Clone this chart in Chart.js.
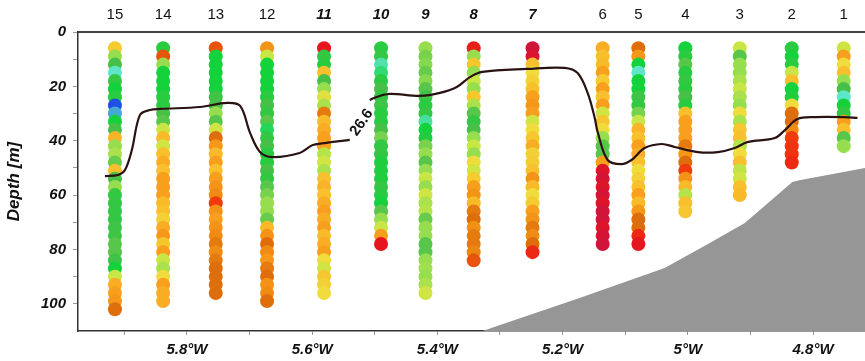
<!DOCTYPE html>
<html>
<head>
<meta charset="utf-8">
<script src="https://cdn.jsdelivr.net/npm/chart.js@4"></script>
<style>html,body{margin:0;padding:0;background:#fff}</style>
</head>
<body>
<canvas id="c" width="865" height="361"></canvas>
<script>
// stations, numbered from west (15) to east (1)
const stationIds = [15, 14, 13, 12, 11, 10, 9, 8, 7, 6, 5, 4, 3, 2, 1];
const stationLon = [-5.915, -5.838, -5.754, -5.672, -5.581, -5.490, -5.419, -5.342, -5.248, -5.136, -5.079, -5.004, -4.917, -4.834, -4.751];
const italicStations = [11, 10, 9, 8, 7];

// sample depths (m), each profile uses the first N of them
const depths = [6, 9, 12, 15, 18, 21, 24, 27, 30, 33, 36, 39, 42, 45, 48, 51, 54, 57, 60, 63, 66, 69, 72, 75, 78, 81, 84, 87, 90, 93, 96, 99, 102];

// colour-coded value per sample (0 = blue ... 8.5 = crimson)
const st15 = [4.3, 3, 2.5, 1, 2.3, 2, 2.2, 0, 0.6, 2, 2.5, 4.7, 3, 3.2, 2.7, 4.5, 2.5, 3, 2.3, 2.3, 2.3, 2.3, 2.4, 2.4, 2.6, 2.6, 2.4, 2, 3.5, 4.8, 5, 5.2, 6];
const st14 = [2.2, 6.5, 3, 2, 2, 2, 2.2, 2.2, 2.5, 2.6, 3.5, 4.6, 3.6, 4.5, 4.8, 4.5, 5, 5, 5, 4.6, 4.5, 4.2, 4.8, 5.2, 4.4, 5, 3.5, 3.2, 4, 5, 4.8, 4.8];
const st13 = [6.5, 2, 2, 2, 2, 2, 2.4, 2.5, 3, 2.6, 3.6, 6, 5.2, 4.6, 5, 4.5, 5, 5.3, 5.5, 7, 5.3, 5, 5.3, 5.5, 5.8, 5.5, 5.8, 6, 6, 6, 6];
const st12 = [5.3, 3.5, 2, 2, 2, 2, 2.2, 2.5, 2.3, 2.6, 1.8, 2.3, 2.5, 2.2, 2.2, 2.5, 2.3, 2.6, 2.8, 3, 3, 2.7, 4.6, 5.3, 6, 5.5, 5.2, 5.8, 6, 5.3, 5.5, 6];
const st11 = [8, 2.3, 2.2, 4.5, 2.5, 3, 3.8, 3.2, 5.8, 4.6, 4.8, 5, 5, 3.3, 3.6, 3.2, 4.5, 4.7, 4.5, 4.8, 5, 4.8, 5, 4.6, 4.8, 5, 4, 3.6, 4.4, 4.2, 4];
const st10 = [2.2, 2.3, 1.2, 1.6, 2.2, 2.5, 2.3, 2.4, 2.2, 2.2, 2.5, 2.8, 2.3, 2.3, 2.1, 2.1, 2.1, 2.3, 2.2, 2, 2.6, 3, 3.5, 5, 8];
const st9 = [3, 2.8, 2.9, 2.7, 2.9, 2.6, 2.4, 2.2, 2.3, 1.3, 2, 2.1, 2.8, 3, 2.6, 3, 3.5, 3, 3.6, 3.2, 3.3, 2.7, 3, 3, 2.6, 2.6, 3, 3.1, 3, 3.2, 3.6];
const st8 = [7.8, 3, 4.4, 3, 3.5, 3, 4.4, 3.2, 2.6, 2.3, 2.5, 3, 3.5, 3, 4, 3.6, 4.3, 5, 5.3, 4.6, 5.8, 6, 5.4, 5.8, 5.8, 5.6, 6.5];
const st7 = [8.5, 8.3, 4.5, 4, 4.2, 4.5, 5, 5.2, 5, 3.6, 4, 4.4, 4.8, 4.2, 4.3, 4.5, 5.3, 4.6, 4, 4.3, 5, 5.3, 5.8, 5.5, 6, 7.5];
const st6 = [4.8, 4.5, 4.6, 5, 4.3, 5, 4.5, 5, 3.6, 4.4, 4, 3, 2.6, 2.6, 5, 8.2, 8.4, 8.2, 8.4, 8.2, 8.5, 8.5, 8.2, 8.4, 8.5];
const st5 = [6, 5.2, 2, 1, 2, 2, 2.4, 2.3, 2.8, 3.5, 4.7, 4.5, 5, 4.8, 4.5, 4, 4.2, 4.5, 5, 4.6, 5.2, 6, 6, 7.5, 8];
const st4 = [2, 2.2, 2.6, 2.2, 2.3, 2.2, 2.5, 2.2, 4.5, 5, 5, 5, 5.8, 5.2, 6, 7, 5.3, 4.6, 3.3, 4.5, 4.4];
const st3 = [3.5, 2.6, 3, 3, 3.2, 3.5, 3.2, 3, 4, 3.2, 4.4, 4.5, 3.3, 4, 4.5, 3.4, 3.6, 4.5, 4.6];
const st2 = [2.2, 2, 2.2, 3.5, 4.5, 2, 2.1, 4, 6, 6, 5.5, 7, 7.2, 7.2, 7.5];
const st1 = [3.6, 5, 4, 4.5, 3, 2.5, 1, 2, 2.3, 5, 4.5, 2.6, 3];
const stationValues = [st15, st14, st13, st12, st11, st10, st9, st8, st7, st6, st5, st4, st3, st2, st1];

// 26.6 isopycnal (null = gap for the label)
const isoLon = [-5.931, -5.910, -5.899, -5.888, -5.875, -5.859, -5.843, -5.779, -5.736, -5.715, -5.699, -5.683, -5.663, -5.620, -5.599, -5.577, -5.540, -5.525,
  -5.508, -5.497, -5.476, -5.428, -5.396, -5.369, -5.348, -5.328, -5.257, -5.197, -5.176, -5.160, -5.149, -5.144, -5.128, -5.106, -5.090, -5.069, -5.042,
  -5.021, -4.984, -4.952, -4.925, -4.905, -4.861, -4.845, -4.825, -4.798, -4.750, -4.729];
const isoDepth = [53.0, 52.6, 50.8, 43.4, 30.5, 28.7, 28.3, 27.6, 26.1, 27.2, 37.2, 44.2, 46.0, 44.5, 41.6, 40.8, 39.7, null,
  25.0, 23.9, 22.8, 23.5, 22.4, 20.2, 16.6, 14.7, 13.6, 13.2, 15.1, 22.4, 31.3, 36.8, 47.1, 48.6, 47.1, 42.7, 41.2,
  42.3, 44.2, 44.2, 42.7, 40.5, 39.0, 36.1, 32.0, 31.3, 31.3, 31.6];
const isoLabel = '26.6';

// sea floor
const bathyLon = [-5.328, -5.173, -5.037, -4.965, -4.909, -4.833, -4.822, -4.717];
const bathyDepth = [110, 97.9, 86.8, 77.6, 70.3, 55.2, 54.5, 50.0];

const lonTicks = [-5.9, -5.8, -5.7, -5.6, -5.5, -5.4, -5.3, -5.2, -5.1, -5.0, -4.9, -4.8];
const depthTicks = [0, 10, 20, 30, 40, 50, 60, 70, 80, 90, 100];

const FONT = 'Arial, "Liberation Sans", sans-serif';
const stops = [
  [0, [30, 80, 230]], [1, [94, 230, 200]], [2, [20, 210, 60]], [2.5, [72, 192, 72]],
  [3, [150, 222, 80]], [3.5, [200, 230, 70]], [4, [240, 220, 60]], [4.5, [248, 192, 44]],
  [5, [248, 160, 30]], [5.5, [240, 140, 20]], [6, [222, 110, 12]], [7, [240, 60, 12]],
  [8, [230, 22, 30]], [8.5, [208, 20, 58]]
];
function colorFor(v) {
  if (v <= stops[0][0]) return 'rgb(' + stops[0][1].join(',') + ')';
  for (let i = 1; i < stops.length; i++) {
    if (v <= stops[i][0]) {
      const [a, ca] = stops[i - 1], [b, cb] = stops[i];
      const t = (v - a) / (b - a);
      const c = ca.map((x, k) => Math.round(x + (cb[k] - x) * t));
      return 'rgb(' + c.join(',') + ')';
    }
  }
  return 'rgb(' + stops[stops.length - 1][1].join(',') + ')';
}

const datasets = [];
datasets.push({
  type: 'line',
  data: isoLon.map((x, i) => ({x, y: isoDepth[i]})),
  borderColor: '#2a1212', borderWidth: 2.2, pointRadius: 0,
  tension: 0.35, spanGaps: false, fill: false
});
datasets.push({
  type: 'line',
  data: bathyLon.map((x, i) => ({x, y: bathyDepth[i]})),
  borderWidth: 0, borderColor: '#969696', backgroundColor: '#969696',
  pointRadius: 0, tension: 0, fill: {value: 110}
});
stationValues.forEach((vals, i) => {
  datasets.push({
    type: 'scatter',
    data: vals.map((v, k) => ({x: stationLon[i], y: depths[k], v})),
    pointRadius: 7, pointBorderWidth: 0, borderWidth: 0,
    backgroundColor: c => c.raw ? colorFor(c.raw.v) : '#ccc'
  });
});

const isoLabelPlugin = {
  id: 'isoLabel',
  afterDatasetsDraw(chart) {
    const {ctx, scales} = chart;
    const px = scales.x.getPixelForValue(-5.521);
    const py = scales.y.getPixelForValue(33.3);
    ctx.save();
    ctx.translate(px, py);
    ctx.rotate(-55 * Math.PI / 180);
    ctx.font = 'bold 15px ' + FONT;
    ctx.fillStyle = '#111';
    ctx.textAlign = 'center';
    ctx.textBaseline = 'middle';
    ctx.fillText(isoLabel, 0, 0);
    ctx.restore();
  }
};

function noPad(s) { s.paddingLeft = 0; s.paddingRight = 0; s.paddingTop = 0; s.paddingBottom = 0; }

new Chart(document.getElementById('c'), {
  type: 'scatter',
  data: {datasets},
  options: {
    responsive: false, animation: false, events: [],
    layout: {padding: 0, autoPadding: false},
    plugins: {legend: {display: false}, tooltip: {enabled: false}},
    scales: {
      x: {
        type: 'linear', position: 'bottom', min: -5.974, max: -4.717,
        afterBuildTicks: s => { s.ticks = lonTicks.map(v => ({value: v})); },
        afterFit: s => { s.height = 30; noPad(s); },
        grid: {drawOnChartArea: false, drawTicks: true, tickLength: 4, color: '#999'},
        border: {display: true, color: '#333', width: 1.5},
        ticks: {
          autoSkip: false, maxRotation: 0, padding: 6, color: '#111',
          font: {family: FONT, size: 15, weight: 'bold', style: 'italic'},
          callback: v => (Math.round(v * 10) % 2 === 0) ? parseFloat(Math.abs(v).toFixed(1)) + '°W' : ''
        }
      },
      xTop: {
        type: 'linear', position: 'top', min: -5.974, max: -4.717,
        afterBuildTicks: s => { s.ticks = stationLon.map(v => ({value: v})); },
        afterFit: s => { s.height = 32; noPad(s); },
        grid: {display: false, drawTicks: false},
        border: {display: true, color: '#444', width: 2},
        ticks: {
          autoSkip: false, maxRotation: 0, padding: 8, color: '#111',
          font: c => italicStations.includes(stationIds[c.index])
            ? {family: FONT, size: 15, weight: 'bold', style: 'italic'}
            : {family: FONT, size: 15},
          callback: (v, i) => String(stationIds[i])
        }
      },
      y: {
        type: 'linear', position: 'left', min: 0, max: 110, reverse: true,
        afterBuildTicks: s => { s.ticks = depthTicks.map(v => ({value: v})); },
        afterFit: s => { s.width = 78; noPad(s); },
        grid: {drawOnChartArea: false, drawTicks: true, tickLength: 5, color: '#999'},
        border: {display: true, color: '#333', width: 1.5},
        title: {display: true, text: 'Depth [m]', color: '#111', padding: {top: 4, bottom: 0},
          font: {family: FONT, size: 17, weight: 'bold', style: 'italic'}},
        ticks: {
          autoSkip: false, padding: 7, color: '#111',
          font: {family: FONT, size: 15, weight: 'bold', style: 'italic'},
          callback: v => (v % 20 === 0) ? String(v) : ''
        }
      }
    }
  },
  plugins: [isoLabelPlugin]
});
</script>
</body>
</html>
